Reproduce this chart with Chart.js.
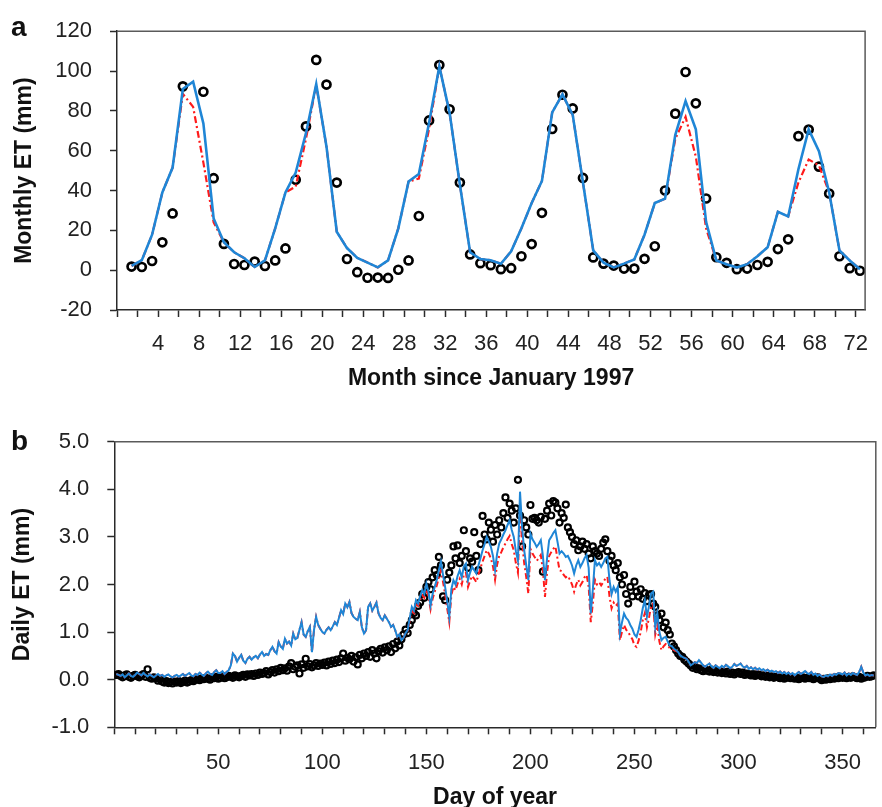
<!DOCTYPE html>
<html><head><meta charset="utf-8">
<script src="https://cdn.jsdelivr.net/npm/chart.js@4.4.1/dist/chart.umd.min.js"></script>
<style>
html,body{margin:0;padding:0;background:#fff;width:882px;height:807px;overflow:hidden;position:relative}
canvas{position:absolute;left:0}
#ca{top:0}
#cb{top:400px}
</style></head>
<body>
<canvas id="ca" width="882" height="400"></canvas>
<canvas id="cb" width="882" height="420"></canvas>
<script>
// ---------- Panel a: monthly ET ----------
const MONTHS = [1,2,3,4,5,6,7,8,9,10,11,12,13,14,15,16,17,18,19,20,21,22,23,24,25,26,27,28,29,30,31,32,33,34,35,36,
  37,38,39,40,41,42,43,44,45,46,47,48,49,50,51,52,53,54,55,56,57,58,59,60,61,62,63,64,65,66,67,68,69,70,71,72];
const A_OBS = [1.8,1.6,4.6,14,28.5,92.3,null,89.6,46.2,13.2,
  3.1,2.6,4.3,2.1,4.9,10.9,45.4,72.2,105.6,93.2,
  44,5.6,-1,-3.8,-3.7,-3.9,0.2,4.9,27.2,75.2,
  103,80.8,44,7.9,3.5,2.5,0.5,1,7,13.1,
  28.8,70.9,88.1,81.2,46.3,6.4,3.3,2.3,0.8,0.8,
  5.7,12,40,78.6,99.5,83.8,36,6.5,3.7,0.5,
  0.8,2.6,4.2,10.6,15.5,67.3,70.6,52,38.5,7,
  1,-0.3];
const A_BLUE = [2.1,5,17.8,39,51.5,91,94.7,73.7,26,14,
  9,6,1.6,4.9,21,39,49,68.8,93.4,62,
  19.3,11.1,6.2,3.8,1.4,4.9,21,44.5,48.3,74,
  102.3,79,43,9,5.6,5,3.2,9.5,21,33.7,
  44.8,79.2,88.3,78,44,9.9,3.8,1.4,3.3,5.4,
  17.8,33.7,35.9,68,84.9,70.7,24.3,4.9,3,1.3,
  3,7,11.5,29.3,27,50.7,70.7,59.7,39,9.9,
  4.9,0.5];
const A_RED = [2.1,5,17.8,39,51.5,88.5,82,54,24,14,
  9,6,1.6,4.9,21,39,42,66,93,62,
  19.3,11.1,6.2,3.8,1.4,4.9,21,44.5,46,71,
  102.3,79,43,9,5.6,5,3.2,9.5,21,33.7,
  44.8,79.2,88.3,78,44,9.9,3.8,1.4,3.3,5.4,
  17.8,33.7,35.9,66,77,57,21,4.9,3,1.3,
  3,7,11.5,29.3,27,44,55.6,52.6,39,9.9,
  4.9,0.5];
const A_X_TICKS = [0,2,4,6,8,10,12,14,16,18,20,22,24,26,28,30,32,34,36,38,40,42,44,46,48,50,52,54,56,58,60,62,64,66,68,70,72];
const A_X_LABELS = [4,8,12,16,20,24,28,32,36,40,44,48,52,56,60,64,68,72];

// ---------- Panel b: daily ET ----------
const DAYS = Array.from({length: 365}, (_, i) => i + 1);
const B_OBS = [
  0.10,0.12,0.08,0.05,0.09,0.11,0.06,0.04,0.08,0.10,
  0.07,0.05,0.09,0.12,0.06,0.22,0.04,0.02,0.05,0.03,
  -0.02,0.01,-0.04,-0.06,-0.03,-0.07,-0.05,-0.08,-0.04,-0.06,
  -0.03,-0.07,-0.05,-0.02,-0.06,-0.04,-0.01,-0.03,0.00,0.02,
  -0.01,0.03,0.01,0.04,0.02,0.00,0.05,0.03,0.06,0.02,
  0.04,0.07,0.03,0.05,0.08,0.06,0.04,0.09,0.07,0.05,
  0.08,0.10,0.06,0.11,0.09,0.12,0.08,0.13,0.10,0.15,
  0.12,0.14,0.18,0.11,0.16,0.20,0.15,0.22,0.18,0.25,
  0.20,0.24,0.19,0.28,0.35,0.22,0.27,0.30,0.13,0.32,
  0.25,0.44,0.28,0.33,0.26,0.30,0.35,0.29,0.34,0.31,
  0.36,0.30,0.38,0.33,0.40,0.35,0.42,0.37,0.45,0.55,
  0.40,0.46,0.43,0.50,0.38,0.47,0.32,0.52,0.45,0.55,
  0.50,0.58,0.48,0.62,0.55,0.45,0.60,0.65,0.57,0.68,
  0.62,0.70,0.58,0.75,0.66,0.80,0.72,0.85,0.95,1.05,
  0.98,1.15,1.25,1.40,1.35,1.55,1.62,1.80,1.72,1.95,
  2.05,1.90,2.15,2.30,2.20,2.58,2.40,1.75,1.67,2.10,
  2.25,2.40,2.80,2.55,2.82,2.45,2.60,3.14,2.70,2.35,
  2.55,2.48,3.10,2.60,2.30,2.85,3.44,3.05,2.95,3.30,
  3.15,2.90,3.25,3.05,3.35,3.20,3.50,3.83,3.40,3.70,
  3.55,3.30,3.60,4.20,3.45,2.80,3.35,3.20,3.05,3.67,
  3.38,3.40,3.35,3.30,3.42,2.27,3.38,3.55,3.70,3.45,
  3.75,3.72,3.60,3.30,3.50,3.40,3.68,3.20,3.10,3.00,
  2.85,2.93,2.72,2.80,2.90,2.75,2.85,2.65,2.55,2.80,
  2.70,2.65,2.60,2.75,2.88,2.95,2.70,2.50,2.60,2.40,
  2.30,2.45,2.15,2.00,2.20,1.80,1.60,1.95,1.75,2.06,
  1.85,1.75,1.90,1.70,1.82,1.65,1.78,1.80,1.60,1.53,
  1.35,1.25,1.39,1.10,1.20,1.04,0.95,0.76,0.70,0.62,
  0.55,0.50,0.48,0.42,0.38,0.34,0.30,0.25,0.28,0.22,
  0.24,0.20,0.18,0.22,0.19,0.17,0.21,0.16,0.19,0.15,
  0.18,0.14,0.16,0.13,0.17,0.12,0.15,0.11,0.14,0.16,
  0.12,0.15,0.10,0.13,0.11,0.09,0.12,0.08,0.11,0.10,
  0.07,0.09,0.06,0.08,0.05,0.07,0.04,0.06,0.05,0.03,
  0.05,0.02,0.04,0.06,0.03,0.05,0.02,0.04,0.01,0.03,
  0.05,0.02,0.04,0.03,0.06,0.01,0.03,0.05,0.02,-0.01,
  0.02,0.00,0.03,0.01,0.04,0.02,0.05,0.03,0.06,0.04,
  0.05,0.03,0.06,0.04,0.07,0.05,0.03,0.06,0.02,0.04,
  0.05,0.08,0.06,0.07,0.09];
const B_BLUE = [
  0.12,0.10,0.08,0.11,0.05,0.09,0.13,0.08,0.06,0.10,
  0.15,0.12,0.09,0.14,0.10,0.07,0.11,0.08,0.05,0.09,
  0.12,0.08,0.10,0.06,0.09,0.11,0.07,0.05,0.08,0.10,
  0.06,0.09,0.12,0.08,0.11,0.14,0.09,0.07,0.12,0.10,
  0.15,0.11,0.08,0.13,0.17,0.12,0.10,0.16,0.20,0.14,
  0.14,0.18,0.12,0.16,0.20,0.30,0.55,0.50,0.38,0.46,
  0.52,0.40,0.35,0.44,0.48,0.42,0.47,0.50,0.45,0.53,
  0.58,0.50,0.54,0.52,0.62,0.69,0.60,0.55,0.79,0.70,
  0.65,0.86,0.76,0.80,0.72,0.97,0.85,0.88,1.05,1.21,
  0.95,0.90,1.02,1.11,0.58,1.05,1.32,1.15,1.07,1.00,
  0.97,1.05,1.10,1.04,1.12,1.21,1.15,1.30,1.46,1.38,
  1.60,1.52,1.63,1.40,1.32,1.28,1.25,1.42,1.10,0.97,
  1.04,1.53,1.60,1.45,1.53,1.62,1.39,1.30,1.25,1.35,
  1.28,1.21,1.11,1.15,1.04,0.90,0.95,0.83,0.88,0.98,
  1.04,1.30,1.53,1.45,1.67,1.60,1.75,1.88,1.80,2.02,
  1.85,1.56,1.80,1.95,2.10,2.30,2.48,2.20,1.95,1.65,
  1.32,1.90,2.09,2.00,2.18,2.30,2.15,2.38,2.44,2.09,
  2.25,2.37,2.30,2.23,2.40,2.55,2.72,2.85,3.00,2.90,
  2.79,2.60,2.30,2.65,2.86,2.95,3.05,3.14,3.25,3.35,
  3.15,3.00,2.70,2.50,3.95,3.20,2.72,2.40,2.09,3.07,
  2.95,2.88,2.79,2.85,2.93,2.60,2.09,2.55,2.93,3.00,
  3.08,3.14,2.90,2.65,2.70,2.65,2.58,2.60,2.51,2.40,
  2.23,2.40,2.51,2.37,2.45,2.55,2.62,2.35,1.39,1.90,
  2.51,2.40,2.45,2.37,2.45,2.55,2.58,2.09,1.80,1.95,
  1.85,1.95,0.97,1.20,1.39,1.30,1.25,1.15,1.07,0.95,
  0.90,1.05,1.25,1.50,1.67,1.32,1.55,1.81,1.85,1.11,
  1.39,1.00,0.83,0.88,0.90,0.80,0.72,0.70,0.65,0.62,
  0.58,0.51,0.48,0.46,0.44,0.38,0.30,0.33,0.37,0.35,
  0.41,0.36,0.30,0.27,0.31,0.34,0.28,0.25,0.30,0.27,
  0.24,0.29,0.26,0.31,0.28,0.24,0.27,0.33,0.29,0.31,
  0.34,0.28,0.25,0.29,0.23,0.26,0.22,0.25,0.21,0.24,
  0.20,0.22,0.18,0.21,0.17,0.19,0.16,0.18,0.14,0.17,
  0.13,0.16,0.12,0.15,0.11,0.14,0.09,0.13,0.16,0.12,
  0.15,0.18,0.14,0.12,0.16,0.10,0.13,0.08,0.11,0.07,
  0.06,0.09,0.07,0.11,0.08,0.12,0.10,0.14,0.13,0.11,
  0.15,0.09,0.13,0.10,0.14,0.12,0.10,0.16,0.27,0.15,
  0.09,0.11,0.08,0.10,0.09];
const B_RED = [
  0.12,0.10,0.08,0.11,0.05,0.09,0.13,0.08,0.06,0.10,
  0.15,0.12,0.09,0.14,0.10,0.07,0.11,0.08,0.05,0.09,
  0.12,0.08,0.10,0.06,0.09,0.11,0.07,0.05,0.08,0.10,
  0.06,0.09,0.12,0.08,0.11,0.14,0.09,0.07,0.12,0.10,
  0.15,0.11,0.08,0.13,0.17,0.12,0.10,0.16,0.20,0.14,
  0.14,0.18,0.12,0.16,0.20,0.30,0.55,0.50,0.38,0.46,
  0.52,0.40,0.35,0.44,0.48,0.42,0.47,0.50,0.45,0.53,
  0.58,0.50,0.54,0.52,0.62,0.69,0.60,0.55,0.79,0.70,
  0.65,0.86,0.76,0.80,0.72,0.97,0.85,0.88,1.05,1.21,
  0.95,0.90,1.02,1.11,0.58,1.05,1.32,1.15,1.07,1.00,
  0.97,1.05,1.10,1.04,1.12,1.21,1.15,1.30,1.46,1.38,
  1.60,1.52,1.63,1.40,1.32,1.28,1.25,1.42,1.10,0.97,
  1.04,1.53,1.60,1.45,1.53,1.62,1.39,1.30,1.25,1.35,
  1.28,1.21,1.11,1.15,1.04,0.90,0.95,0.83,0.88,0.98,
  1.00,1.25,1.45,1.40,1.58,1.55,1.68,1.78,1.72,1.90,
  1.75,1.48,1.70,1.85,1.98,2.15,2.30,2.05,1.80,1.50,
  1.21,1.78,1.95,1.88,2.02,2.12,2.00,2.20,2.25,1.95,
  2.08,2.18,2.12,2.05,2.20,2.35,2.48,2.60,2.72,2.65,
  2.55,2.38,2.10,2.42,2.60,2.68,2.78,2.86,2.95,3.02,
  2.85,2.72,2.45,2.25,3.55,2.90,2.45,2.15,1.81,2.75,
  2.65,2.58,2.50,2.55,2.62,2.30,1.74,2.25,2.60,2.68,
  2.75,2.80,2.55,2.30,2.28,2.20,2.15,2.18,2.10,2.00,
  1.85,2.00,2.10,1.98,2.05,2.15,2.20,1.95,1.21,1.60,
  2.10,2.00,2.05,1.98,2.05,2.12,2.16,1.75,1.50,1.62,
  1.55,1.60,0.83,1.00,1.15,1.05,1.00,0.92,0.85,0.72,
  0.69,0.82,1.00,1.25,1.40,1.10,1.30,1.55,1.60,0.95,
  1.15,0.80,0.62,0.70,0.75,0.72,0.66,0.65,0.62,0.60,
  0.58,0.51,0.48,0.46,0.44,0.38,0.30,0.33,0.37,0.35,
  0.41,0.36,0.30,0.27,0.31,0.34,0.28,0.25,0.30,0.27,
  0.24,0.29,0.26,0.31,0.28,0.24,0.27,0.33,0.29,0.31,
  0.34,0.28,0.25,0.29,0.23,0.26,0.22,0.25,0.21,0.24,
  0.20,0.22,0.18,0.21,0.17,0.19,0.16,0.18,0.14,0.17,
  0.13,0.16,0.12,0.15,0.11,0.14,0.09,0.13,0.16,0.12,
  0.15,0.18,0.14,0.12,0.16,0.10,0.13,0.08,0.11,0.07,
  0.06,0.09,0.07,0.11,0.08,0.12,0.10,0.14,0.13,0.11,
  0.15,0.09,0.13,0.10,0.14,0.12,0.10,0.16,0.27,0.15,
  0.09,0.11,0.08,0.10,0.09];
const B_X_TICKS = [0,10,20,30,40,50,60,70,80,90,100,110,120,130,140,150,160,170,180,190,200,210,220,230,240,250,260,270,280,290,300,310,320,330,340,350,360];
const B_X_LABELS = [50,100,150,200,250,300,350];

// ---------- styling ----------
const FONT = '"Liberation Sans", Arial, Helvetica, sans-serif';
Chart.defaults.font.family = FONT;
const BLUE = '#1f86d6';
const RED = '#ff1a1a';
const AXIS = '#2a2a2a';
const TICKFONT = {size: 22, family: FONT};
const TITLEFONT = {size: 23, weight: 'bold', family: FONT};

const frame = {
  id: 'frame',
  afterDraw(chart, args, o) {
    const {ctx, chartArea: {left, right, top, bottom}} = chart;
    ctx.save();
    ctx.strokeStyle = '#5a5a5a';
    ctx.lineWidth = 1.5;
    ctx.beginPath();
    ctx.moveTo(left, top); ctx.lineTo(right, top); ctx.lineTo(right, bottom);
    ctx.stroke();
    ctx.fillStyle = '#111';
    ctx.font = 'bold 28px ' + FONT;
    ctx.textBaseline = 'alphabetic';
    ctx.fillText(o.letter, o.x, o.y);
    ctx.restore();
  }
};

function pts(xs, ys) { return xs.map((x, i) => ({x: x, y: ys[i]})); }

const X_MIN_A = -0.42;
new Chart(document.getElementById('ca'), {
  type: 'line',
  data: {datasets: [
    {data: pts(MONTHS, A_BLUE), borderColor: BLUE, borderWidth: 2.6, pointRadius: 0, tension: 0},
    {data: pts(MONTHS, A_RED), borderColor: RED, borderWidth: 2.2, borderDash: [7, 3, 2, 3], pointRadius: 0, tension: 0},
    {data: pts(MONTHS, A_OBS), showLine: false, pointRadius: 4, pointBorderWidth: 2.7,
     pointBorderColor: '#000', pointBackgroundColor: 'rgba(0,0,0,0)'}
  ]},
  options: {
    responsive: false, animation: false, events: [],
    plugins: {legend: {display: false}, tooltip: {enabled: false}, frame: {letter: 'a', x: 11, y: 36}},
    layout: {padding: {top: 25, right: 8, left: 0, bottom: 0}},
    scales: {
      x: {
        type: 'linear', min: X_MIN_A, max: 72.5,
        afterBuildTicks: s => { s.ticks = A_X_TICKS.map(v => ({value: X_MIN_A + v})); },
        afterFit: s => { s.height = 90; },
        ticks: {autoSkip: false, maxRotation: 0, padding: 14, color: '#222', font: TICKFONT,
          callback: v => { const m = Math.round(v - X_MIN_A); return A_X_LABELS.includes(m) ? String(m) : ''; }},
        grid: {drawOnChartArea: false, tickLength: 7, tickColor: AXIS, tickWidth: 1.5},
        border: {color: AXIS, width: 1.5},
        title: {display: true, text: 'Month since January 1997', color: '#111', font: TITLEFONT, padding: {top: 0, bottom: 8}}
      },
      y: {
        min: -20, max: 120,
        afterFit: s => { s.width = 117; },
        ticks: {stepSize: 20, padding: 18, color: '#222', font: TICKFONT},
        grid: {drawOnChartArea: false, tickLength: 7, tickColor: AXIS, tickWidth: 1.5},
        border: {color: AXIS, width: 1.5},
        title: {display: true, text: 'Monthly ET (mm)', color: '#111', font: TITLEFONT, padding: {top: 11, bottom: 0}}
      }
    }
  },
  plugins: [frame]
});

new Chart(document.getElementById('cb'), {
  type: 'line',
  data: {datasets: [
    {data: pts(DAYS, B_BLUE), borderColor: BLUE, borderWidth: 2, pointRadius: 0, tension: 0},
    {data: pts(DAYS, B_RED), borderColor: RED, borderWidth: 2, borderDash: [6, 3, 2, 3], pointRadius: 0, tension: 0},
    {data: pts(DAYS, B_OBS), showLine: false, pointRadius: 3, pointBorderWidth: 2.2,
     pointBorderColor: '#000', pointBackgroundColor: 'rgba(0,0,0,0)'}
  ]},
  options: {
    responsive: false, animation: false, events: [],
    plugins: {legend: {display: false}, tooltip: {enabled: false}, frame: {letter: 'b', x: 11, y: 50}},
    layout: {padding: {top: 41.7, right: 5.5, left: 0, bottom: 0}},
    scales: {
      x: {
        type: 'linear', min: 0, max: 366,
        afterBuildTicks: s => { s.ticks = B_X_TICKS.map(v => ({value: v})); },
        afterFit: s => { s.height = 92.7; },
        ticks: {autoSkip: false, maxRotation: 0, padding: 15, color: '#222', font: TICKFONT,
          callback: v => B_X_LABELS.includes(v) ? String(v) : ''},
        grid: {drawOnChartArea: false, tickLength: 7, tickColor: AXIS, tickWidth: 1.5},
        border: {color: AXIS, width: 1.5},
        title: {display: true, text: 'Day of year', color: '#111', font: TITLEFONT, padding: {top: 0, bottom: 9}}
      },
      y: {
        min: -1, max: 5,
        afterFit: s => { s.width = 114.3; },
        ticks: {stepSize: 1, padding: 18, color: '#222', font: TICKFONT, callback: v => Number(v).toFixed(1)},
        grid: {drawOnChartArea: false, tickLength: 7, tickColor: AXIS, tickWidth: 1.5},
        border: {color: AXIS, width: 1.5},
        title: {display: true, text: 'Daily ET (mm)', color: '#111', font: TITLEFONT, padding: {top: 9, bottom: 0}}
      }
    }
  },
  plugins: [frame]
});
</script>
</body></html>
